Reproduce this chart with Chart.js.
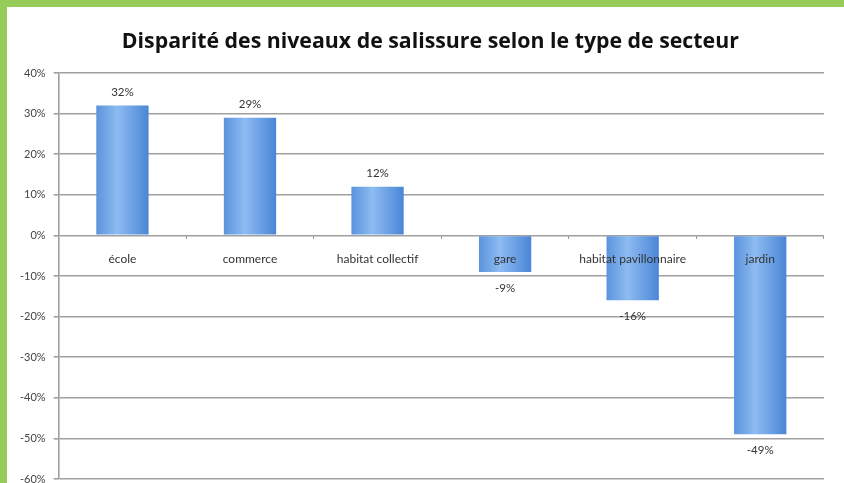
<!DOCTYPE html>
<html lang="fr">
<head>
<meta charset="utf-8">
<title>Disparité des niveaux de salissure</title>
<script src="https://cdn.jsdelivr.net/npm/chart.js@4.4.0/dist/chart.umd.min.js"></script>
<style>
    html, body { margin: 0; padding: 0; overflow: hidden; }
    body { width: 844px; height: 483px; background: #98cc5a; }
    #panel { position: absolute; left: 7px; top: 7px; width: 837px; height: 492px; background: #ffffff; }
</style>
</head>
<body>
<div id="panel"><canvas id="salissureChart"></canvas></div>
<script>
// ------------------ DATA ------------------
const chartTitle = 'Disparité des niveaux de salissure selon le type de secteur';
const sectors = ['école', 'commerce', 'habitat collectif', 'gare', 'habitat pavillonnaire', 'jardin'];
const disparity = [32, 29, 12, -9, -16, -49];
const yTicks = [40, 30, 20, 10, 0, -10, -20, -30, -40, -50, -60];

const BAR_PCT = 0.41;

// horizontal gradient for each bar, Excel 2007 style
function barFill(context) {
    const chart = context.chart;
    const x = chart.scales && chart.scales.x;
    if (!x || context.dataIndex === undefined) return '#6fa5e8';
    const cx = x.getPixelForValue(context.dataIndex);
    const half = (x.width / sectors.length) * BAR_PCT / 2;
    if (!isFinite(cx) || !isFinite(half)) return '#6fa5e8';
    const g = chart.ctx.createLinearGradient(cx - half, 0, cx + half, 0);
    g.addColorStop(0, '#5b93dc');
    g.addColorStop(0.4, '#8dbbf2');
    g.addColorStop(1, '#4a86d6');
    return g;
}

// value labels above / below the bars
const valueLabels = {
    id: 'valueLabels',
    afterDatasetsDraw(chart) {
        const ctx = chart.ctx;
        const meta = chart.getDatasetMeta(0);
        ctx.save();
        ctx.font = '11.5px Lato, "Open Sans", sans-serif';
        ctx.fillStyle = '#333333';
        ctx.textAlign = 'center';
        ctx.textBaseline = 'middle';
        meta.data.forEach((bar, i) => {
            const v = disparity[i];
            const y = v >= 0 ? bar.y - 13 : bar.y + 16;
            ctx.fillText(v + '%', bar.x, y);
        });
        ctx.restore();
    }
};

// title, a bit left of the plot centre like the original
const plotTitle = {
    id: 'plotTitle',
    afterDraw(chart) {
        const ctx = chart.ctx;
        const area = chart.chartArea;
        ctx.save();
        ctx.font = 'bold 21.3px "Open Sans", Lato, sans-serif';
        ctx.fillStyle = '#111111';
        ctx.textAlign = 'center';
        ctx.textBaseline = 'middle';
        ctx.fillText(chartTitle, (area.left + area.right) / 2 - 11, 35);
        ctx.restore();
    }
};

const ctx = document.getElementById('salissureChart').getContext('2d');
new Chart(ctx, {
    type: 'bar',
    data: {
        labels: sectors,
        datasets: [{
            label: 'Disparité',
            data: disparity,
            backgroundColor: barFill,
            borderWidth: 0,
            barPercentage: BAR_PCT,
            categoryPercentage: 1
        }]
    },
    options: {
        responsive: true,
        maintainAspectRatio: false,
        animation: false,
        layout: { padding: { left: 5, right: 20, top: 66, bottom: 20 } },
        plugins: {
            legend: { display: false },
            tooltip: { enabled: false },
            title: { display: false }
        },
        scales: {
            x: {
                position: { y: 0 },
                grid: { display: true, drawOnChartArea: false, offset: true, tickLength: 4, color: '#999999' },
                border: { display: false },
                ticks: {
                    z: 1,
                    padding: 13,
                    color: '#333333',
                    maxRotation: 0,
                    autoSkip: false,
                    font: { family: 'Lato, "Open Sans", sans-serif', size: 12 }
                }
            },
            y: {
                min: yTicks[yTicks.length - 1],
                max: yTicks[0],
                afterBuildTicks(scale) {
                    scale.ticks = yTicks.map(v => ({ value: v }));
                },
                grid: { color: '#a0a0a0', lineWidth: 1.6, tickLength: 5 },
                border: { display: true, color: '#a0a0a0', width: 1.6 },
                ticks: {
                    padding: 8,
                    color: '#444444',
                    font: { family: 'Lato, "Open Sans", sans-serif', size: 11 },
                    callback: v => v + '%'
                }
            }
        }
    },
    plugins: [valueLabels, plotTitle]
});
</script>
</body>
</html>
